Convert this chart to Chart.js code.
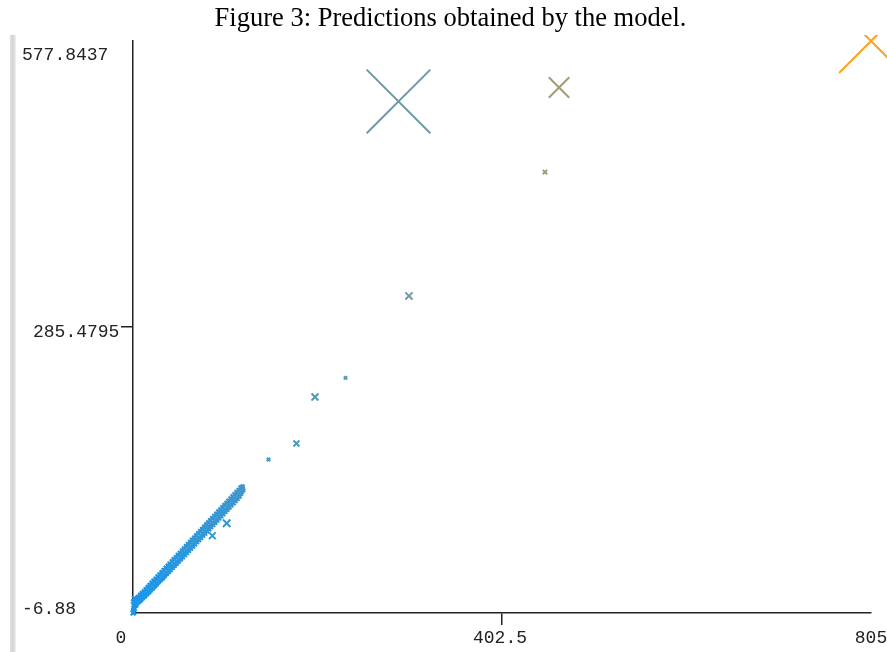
<!DOCTYPE html>
<html>
<head>
<meta charset="utf-8">
<script src="https://cdn.jsdelivr.net/npm/chart.js@4.4.0/dist/chart.umd.min.js"></script>
<style>
  html, body { margin: 0; padding: 0; background: #fff; }
  #wrap { position: relative; width: 887px; height: 652px; overflow: hidden; }
  #predChart { position: absolute; left: 0; top: 0; }
  #edge { position: absolute; left: 10px; top: 35px; bottom: 0; width: 6px;
          background: linear-gradient(to right, #e2e2e2, #d3d3d3 45%, #efefef); }
  #title { position: absolute; left: 14px; right: 0; top: 2px; text-align: center;
           font-family: "Liberation Serif", "Times New Roman", serif; font-size: 26.5px; color: #000; }
</style>
</head>
<body>
<div id="wrap">
  <canvas id="predChart" width="887" height="652"></canvas>
  <div id="edge"></div>
  <div id="title">Figure 3: Predictions obtained by the model.</div>
</div>
<script>
// ---------- Data ----------
// actual value on x, model prediction on y
const actual = [
  0, 0.4, 0.1, 1.2, 0.6, 2.1, 0.2, 2.8, 3.5, 1.4, 4.6, 5.2, 6.1, 7.3, 8.0, 9.2,
  10.1, 11.4, 12.3, 13.5, 14.2, 15.6, 16.4, 17.8, 18.5, 19.9, 20.7, 21.8, 22.9, 24.1,
  25.0, 26.3, 27.1, 28.4, 29.6, 30.5, 31.7, 32.9, 33.8, 35.0, 36.2, 37.4, 38.3, 39.6,
  40.4, 41.8, 42.7, 43.9, 44.8, 46.1, 47.0, 48.2, 49.3, 50.5, 51.6, 52.7, 53.9, 55.0,
  56.1, 57.3, 58.2, 59.6, 60.4, 61.8, 62.6, 63.9, 64.8, 66.1, 67.0, 68.3, 69.2, 70.6,
  71.4, 72.7, 73.8, 74.9, 75.7, 77.1, 78.0, 79.3, 80.2, 81.6, 82.5, 83.7, 84.6, 86.0,
  86.9, 88.2, 89.1, 90.4, 91.3, 92.6, 93.5, 94.9, 95.7, 97.0, 97.9, 99.3, 100.1, 101.5,
  102.4, 103.6, 104.6, 105.9, 106.8, 108.1, 109.0, 110.4, 111.2, 112.5, 113.4, 114.8,
  115.6, 116.9, 117.8, 119.0, 120.1, 118.5,
  0.8, 1.9, 2.4, 3.1, 3.9, 4.2, 5.6, 6.7, 7.9, 8.6, 9.8, 10.7, 11.9, 12.8, 13.9, 15.1,
  16.0, 17.2, 18.1, 19.3, 20.2, 21.4, 22.3, 23.5, 24.6, 25.7, 26.8, 27.8, 28.9, 30.1,
  31.1, 32.3, 33.3, 34.4, 35.6, 36.7, 37.8, 38.9, 39.9, 41.1, 42.2, 43.4, 44.3, 45.5,
  46.6, 47.7, 48.8, 49.9, 51.0, 52.2, 53.3, 54.4, 55.5, 56.7, 57.7, 58.9, 59.9, 61.1,
  62.2, 63.3, 64.3, 65.5, 66.6, 67.7, 68.8, 69.9, 71.0, 72.1, 73.2, 74.3, 75.4, 76.5,
  77.6, 78.7, 79.8, 80.9, 81.9, 83.1, 84.1, 85.3, 86.3, 87.5, 88.6, 89.7, 90.8, 91.9,
  93.0, 94.1, 95.2, 96.3, 97.4, 98.6, 99.6, 100.8, 101.9, 103.0, 104.0, 105.2, 106.3,
  107.4, 108.5, 109.7, 110.7, 111.9, 112.9, 114.1, 115.2, 116.3, 117.3, 118.0, 119.6, 120.6,
  102.2, 86.5, 147.8, 178.3, 198.5, 231.8, 301.0, 289.6, 449.4, 464.7, 805
];
const predicted = [
  -6.88, -4.1, -1.5, 0.6, 2.8, 1.4, 4.9, 5.6, 2.9, 8.1, 7.2, 3.4, 9.3, 5.1, 10.9, 6.6,
  13.0, 9.1, 14.8, 10.7, 17.1, 12.9, 19.0, 14.6, 21.4, 17.0, 23.3, 18.7, 25.6, 21.1,
  27.4, 23.2, 29.9, 25.4, 32.2, 27.6, 34.3, 29.8, 36.7, 32.0, 38.9, 34.3, 41.2, 36.5,
  43.0, 38.8, 45.4, 40.9, 47.7, 43.1, 49.8, 45.3, 52.0, 47.6, 54.3, 49.8, 56.6, 52.1,
  58.7, 54.3, 61.0, 56.7, 63.1, 58.9, 65.4, 61.0, 67.6, 63.2, 69.9, 65.4, 72.0, 67.6,
  74.3, 69.8, 76.4, 72.0, 78.6, 74.2, 80.9, 76.5, 83.1, 78.7, 85.3, 80.8, 87.5, 83.1,
  89.6, 85.3, 91.9, 87.6, 94.0, 89.8, 96.3, 92.0, 98.4, 94.2, 100.7, 96.5, 102.9, 98.7,
  105.1, 100.9, 107.4, 103.2, 109.5, 105.4, 111.8, 107.6, 114.0, 109.9, 116.2, 112.1,
  118.4, 114.4, 120.3, 116.8, 120.9, 121.8,
  -6.2, -2.7, 3.3, 0.2, 7.4, 1.6, 9.6, 4.2, 11.8, 5.9, 13.7, 7.9, 15.4, 9.8, 17.6, 11.9,
  19.8, 13.8, 21.9, 16.0, 24.1, 17.9, 26.2, 20.1, 28.3, 22.0, 30.6, 24.3, 32.7, 26.5,
  34.8, 28.4, 37.0, 30.6, 39.4, 32.8, 41.5, 34.9, 43.7, 37.1, 45.9, 39.2, 48.2, 41.4,
  50.3, 43.5, 52.6, 45.8, 54.7, 47.9, 56.9, 50.1, 59.2, 52.3, 61.4, 54.5, 63.6, 56.7,
  65.8, 58.9, 68.1, 61.1, 70.2, 63.3, 72.5, 65.6, 74.7, 67.7, 76.9, 69.9, 79.1, 72.2,
  81.3, 74.3, 83.6, 76.6, 85.7, 78.8, 88.0, 81.0, 90.2, 83.2, 92.4, 85.4, 94.6, 87.6,
  96.9, 89.8, 99.1, 92.0, 101.3, 94.2, 103.5, 96.5, 105.7, 98.7, 107.9, 100.9, 110.2,
  103.1, 112.4, 105.3, 114.6, 107.6, 116.8, 109.8, 118.9, 112.1, 121.4, 115.0, 122.6, 118.4,
  84.8, 72.1, 150.0, 166.4, 213.9, 233.4, 317.2, 516.0, 443.9, 530.3, 577.8437
];

const xTicks = [0, 402.5, 805];
const yTicks = [-6.88, 285.4795, 577.8437];

const points = actual.map((v, i) => ({ x: v, y: predicted[i] }));

// ---------- Styling helpers ----------
// colour runs blue -> orange along the actual value, marker size grows with the error
const lowColor = [28, 150, 234];
const highColor = [255, 160, 30];

function colorFor(p) {
  if (!p) return 'rgb(28,150,234)';
  const t = Math.min(1, Math.max(0, p.x / 805));
  const c = lowColor.map((lo, k) => Math.round(lo + (highColor[k] - lo) * t));
  return `rgb(${c[0]},${c[1]},${c[2]})`;
}

function radiusFor(p) {
  if (!p) return 2;
  return 2 + 0.19 * Math.abs(p.y - p.x);
}

// ---------- Tick labels (drawn by hand to sit like the original) ----------
const tickLabels = {
  id: 'tickLabels',
  afterDraw(chart) {
    const { ctx, scales: { x, y } } = chart;
    ctx.save();
    ctx.font = '18px "Liberation Mono", monospace';
    ctx.fillStyle = '#222';
    ctx.textBaseline = 'middle';

    ctx.textAlign = 'left';
    const yLeft = [22, 33, 22];
    const yShift = [-3.5, 5, 14];
    yTicks.forEach((v, i) => ctx.fillText(String(v), yLeft[i], y.getPixelForValue(v) + yShift[i]));

    ctx.textAlign = 'center';
    const xShift = [-12, -2, 0];
    xTicks.forEach((v, i) => ctx.fillText(String(v), x.getPixelForValue(v) + xShift[i], 638));
    ctx.restore();
  }
};

const midTickOnly = c => (c.index === 1 ? '#222' : 'rgba(0,0,0,0)');

new Chart(document.getElementById('predChart'), {
  type: 'scatter',
  data: {
    datasets: [{
      data: points,
      pointStyle: 'crossRot',
      pointRadius: c => radiusFor(c.raw),
      pointHoverRadius: c => radiusFor(c.raw),
      pointBorderColor: c => colorFor(c.raw),
      pointBackgroundColor: 'rgba(0,0,0,0)',
      pointBorderWidth: 2,
      clip: { left: false, top: 6, right: false, bottom: false }
    }]
  },
  options: {
    responsive: false,
    animation: false,
    events: [],
    layout: { autoPadding: false, padding: { left: 0, top: 41, right: 16, bottom: 0 } },
    plugins: { legend: { display: false }, tooltip: { enabled: false } },
    scales: {
      x: {
        type: 'linear', min: 0, max: 805,
        afterBuildTicks: s => { s.ticks = xTicks.map(v => ({ value: v })); },
        afterFit: s => { s.height = 39; },
        ticks: { display: false },
        grid: { drawOnChartArea: false, tickLength: 12, lineWidth: 1.5, color: midTickOnly },
        border: { color: '#222', width: 1.5 }
      },
      y: {
        type: 'linear', min: -6.88, max: 577.8437,
        afterBuildTicks: s => { s.ticks = yTicks.map(v => ({ value: v })); },
        afterFit: s => { s.width = 133; },
        ticks: { display: false },
        grid: { drawOnChartArea: false, tickLength: 12, lineWidth: 1.5, color: midTickOnly },
        border: { color: '#222', width: 1.5 }
      }
    }
  },
  plugins: [tickLabels]
});
</script>
</body>
</html>
